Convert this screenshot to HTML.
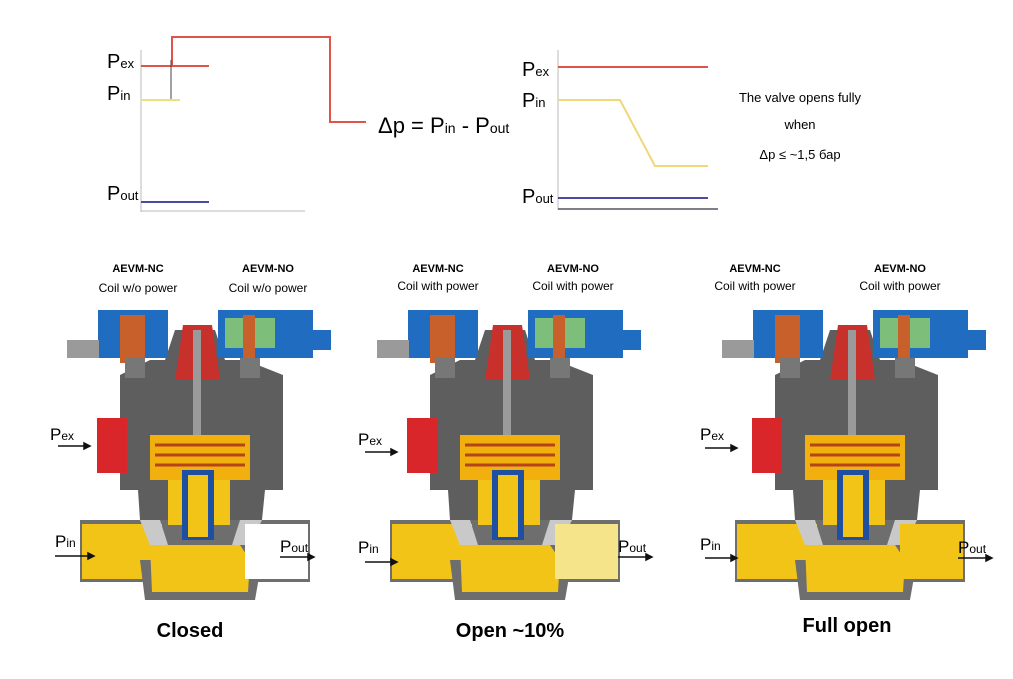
<!DOCTYPE html>
<html><head><meta charset="utf-8"><style>
html,body{margin:0;padding:0;background:#fff;}
svg{display:block;font-family:"Liberation Sans",sans-serif;}
</style></head><body>
<svg width="1013" height="679" viewBox="0 0 1013 679" xmlns="http://www.w3.org/2000/svg">
<defs>
<g id="valve">
  <!-- lower pipe -->
  <rect x="80" y="520" width="230" height="62" fill="#6e6e6e"/>
  <rect x="82" y="524" width="80" height="55" fill="#f2c417"/>
  <!-- bowl -->
  <path d="M140 560 L145 600 L255 600 L262 560 Z" fill="#6e6e6e"/>
  <path d="M150 545 L152 592 L248 592 L250 560 L240 545 Z" fill="#f2c417"/>
  <!-- upper body -->
  <path d="M120 375 L150 360 L165 360 L175 330 L215 330 L225 360 L245 360 L283 375 L283 490 L265 490 L262 520 L140 520 L138 490 L120 490 Z" fill="#5e5e5e"/>
  <rect x="97" y="418" width="30" height="55" fill="#d8262a"/>
  <!-- red cap -->
  <path d="M183 325 L212 325 L220 380 L175 380 Z" fill="#c8302c"/>
  <rect x="193" y="330" width="8" height="210" fill="#9a9a9a"/>
  <!-- inner piston -->
  <rect x="150" y="435" width="100" height="45" fill="#f2b00f"/>
  <g stroke="#b4451a" stroke-width="3"><line x1="155" y1="445" x2="245" y2="445"/><line x1="155" y1="455" x2="245" y2="455"/><line x1="155" y1="465" x2="245" y2="465"/></g>
  <rect x="168" y="480" width="62" height="45" fill="#f2c417"/>
  <rect x="182" y="470" width="32" height="70" fill="#1f4fa0"/>
  <rect x="188" y="475" width="20" height="62" fill="#f2c417"/>
  <path d="M140 520 L160 520 L168 545 L150 545 Z M240 520 L262 520 L250 545 L232 545 Z" fill="#c9c9c9"/>
  <!-- coils -->
  <rect x="98" y="310" width="70" height="48" fill="#1f6cc0"/>
  <rect x="67" y="340" width="32" height="18" fill="#9a9a9a"/>
  <rect x="120" y="315" width="25" height="48" fill="#c8602c"/>
  <rect x="218" y="310" width="95" height="48" fill="#1f6cc0"/>
  <rect x="313" y="330" width="18" height="20" fill="#1f6cc0"/>
  <rect x="225" y="318" width="20" height="30" fill="#7dbf7a"/>
  <rect x="255" y="318" width="20" height="30" fill="#7dbf7a"/>
  <rect x="243" y="315" width="12" height="48" fill="#c8602c"/>
  <rect x="125" y="358" width="20" height="20" fill="#777"/>
  <rect x="240" y="358" width="20" height="20" fill="#777"/>
</g>
</defs>

<!-- left chart -->
<line x1="141" y1="50" x2="141" y2="212" stroke="#bbb"/>
<line x1="141" y1="211" x2="305" y2="211" stroke="#bbb"/>
<line x1="141" y1="66" x2="209" y2="66" stroke="#e0534a" stroke-width="2"/>
<line x1="141" y1="100" x2="180" y2="100" stroke="#ece17a" stroke-width="2"/>
<line x1="141" y1="202" x2="209" y2="202" stroke="#4b4ba6" stroke-width="2"/>
<polyline points="172,66 172,37 330,37 330,122 366,122" fill="none" stroke="#e0534a" stroke-width="2"/>
<line x1="171" y1="60" x2="171" y2="99" stroke="#444" stroke-width="1"/>
<text x="107" y="68" font-size="20">P<tspan font-size="13">ex</tspan></text>
<text x="107" y="100" font-size="20">P<tspan font-size="13">in</tspan></text>
<text x="107" y="200" font-size="20">P<tspan font-size="13">out</tspan></text>
<text x="378" y="133" font-size="22">Δp = P<tspan font-size="14">in</tspan> - P<tspan font-size="14">out</tspan></text>

<!-- right chart -->
<line x1="558" y1="50" x2="558" y2="210" stroke="#bbb"/>
<line x1="558" y1="209" x2="718" y2="209" stroke="#556" stroke-width="1.5"/>
<line x1="558" y1="67" x2="708" y2="67" stroke="#e0534a" stroke-width="2"/>
<polyline points="558,100 620,100 655,166 708,166" fill="none" stroke="#efd77a" stroke-width="2"/>
<line x1="558" y1="198" x2="708" y2="198" stroke="#4b4ba6" stroke-width="2"/>
<text x="522" y="76" font-size="20">P<tspan font-size="13">ex</tspan></text>
<text x="522" y="107" font-size="20">P<tspan font-size="13">in</tspan></text>
<text x="522" y="203" font-size="20">P<tspan font-size="13">out</tspan></text>
<text x="800" y="102" font-size="13" text-anchor="middle">The valve opens fully</text>
<text x="800" y="129" font-size="13" text-anchor="middle">when</text>
<text x="800" y="159" font-size="13" text-anchor="middle">Δp ≤ ~1,5 бар</text>

<!-- valves -->
<use href="#valve"/>
<use href="#valve" transform="translate(310,0)"/>
<use href="#valve" transform="translate(655,0)"/>
<rect x="245" y="524" width="63" height="55" fill="#fff"/>
<rect x="555" y="524" width="63" height="55" fill="#f6e48a"/>
<rect x="900" y="524" width="63" height="55" fill="#f2c417"/>

<g font-size="12" text-anchor="middle">
<text x="138" y="272" font-weight="bold" font-size="11">AEVM-NC</text><text x="138" y="292">Coil w/o power</text>
<text x="268" y="272" font-weight="bold" font-size="11">AEVM-NO</text><text x="268" y="292">Coil w/o power</text>
<text x="438" y="272" font-weight="bold" font-size="11">AEVM-NC</text><text x="438" y="290">Coil with power</text>
<text x="573" y="272" font-weight="bold" font-size="11">AEVM-NO</text><text x="573" y="290">Coil with power</text>
<text x="755" y="272" font-weight="bold" font-size="11">AEVM-NC</text><text x="755" y="290">Coil with power</text>
<text x="900" y="272" font-weight="bold" font-size="11">AEVM-NO</text><text x="900" y="290">Coil with power</text>
</g>
<g font-size="17">
<text x="50" y="440">P<tspan font-size="12">ex</tspan></text>
<text x="55" y="547">P<tspan font-size="12">in</tspan></text>
<text x="280" y="552">P<tspan font-size="12">out</tspan></text>
<text x="358" y="445">P<tspan font-size="12">ex</tspan></text>
<text x="358" y="553">P<tspan font-size="12">in</tspan></text>
<text x="618" y="552">P<tspan font-size="12">out</tspan></text>
<text x="700" y="440">P<tspan font-size="12">ex</tspan></text>
<text x="700" y="550">P<tspan font-size="12">in</tspan></text>
<text x="958" y="553">P<tspan font-size="12">out</tspan></text>
</g>
<g stroke="#111" stroke-width="1.5" fill="#111">
<line x1="58" y1="446" x2="88" y2="446"/><path d="M90 446 l-6 -3 v6z"/>
<line x1="55" y1="556" x2="92" y2="556"/><path d="M94 556 l-6 -3 v6z"/>
<line x1="280" y1="557" x2="312" y2="557"/><path d="M314 557 l-6 -3 v6z"/>
<line x1="365" y1="452" x2="395" y2="452"/><path d="M397 452 l-6 -3 v6z"/>
<line x1="365" y1="562" x2="395" y2="562"/><path d="M397 562 l-6 -3 v6z"/>
<line x1="618" y1="557" x2="650" y2="557"/><path d="M652 557 l-6 -3 v6z"/>
<line x1="705" y1="448" x2="735" y2="448"/><path d="M737 448 l-6 -3 v6z"/>
<line x1="705" y1="558" x2="735" y2="558"/><path d="M737 558 l-6 -3 v6z"/>
<line x1="958" y1="558" x2="990" y2="558"/><path d="M992 558 l-6 -3 v6z"/>
</g>
<g font-size="20" font-weight="bold" text-anchor="middle">
<text x="190" y="637">Closed</text>
<text x="510" y="637">Open ~10%</text>
<text x="847" y="632">Full open</text>
</g>
</svg>
</body></html>
